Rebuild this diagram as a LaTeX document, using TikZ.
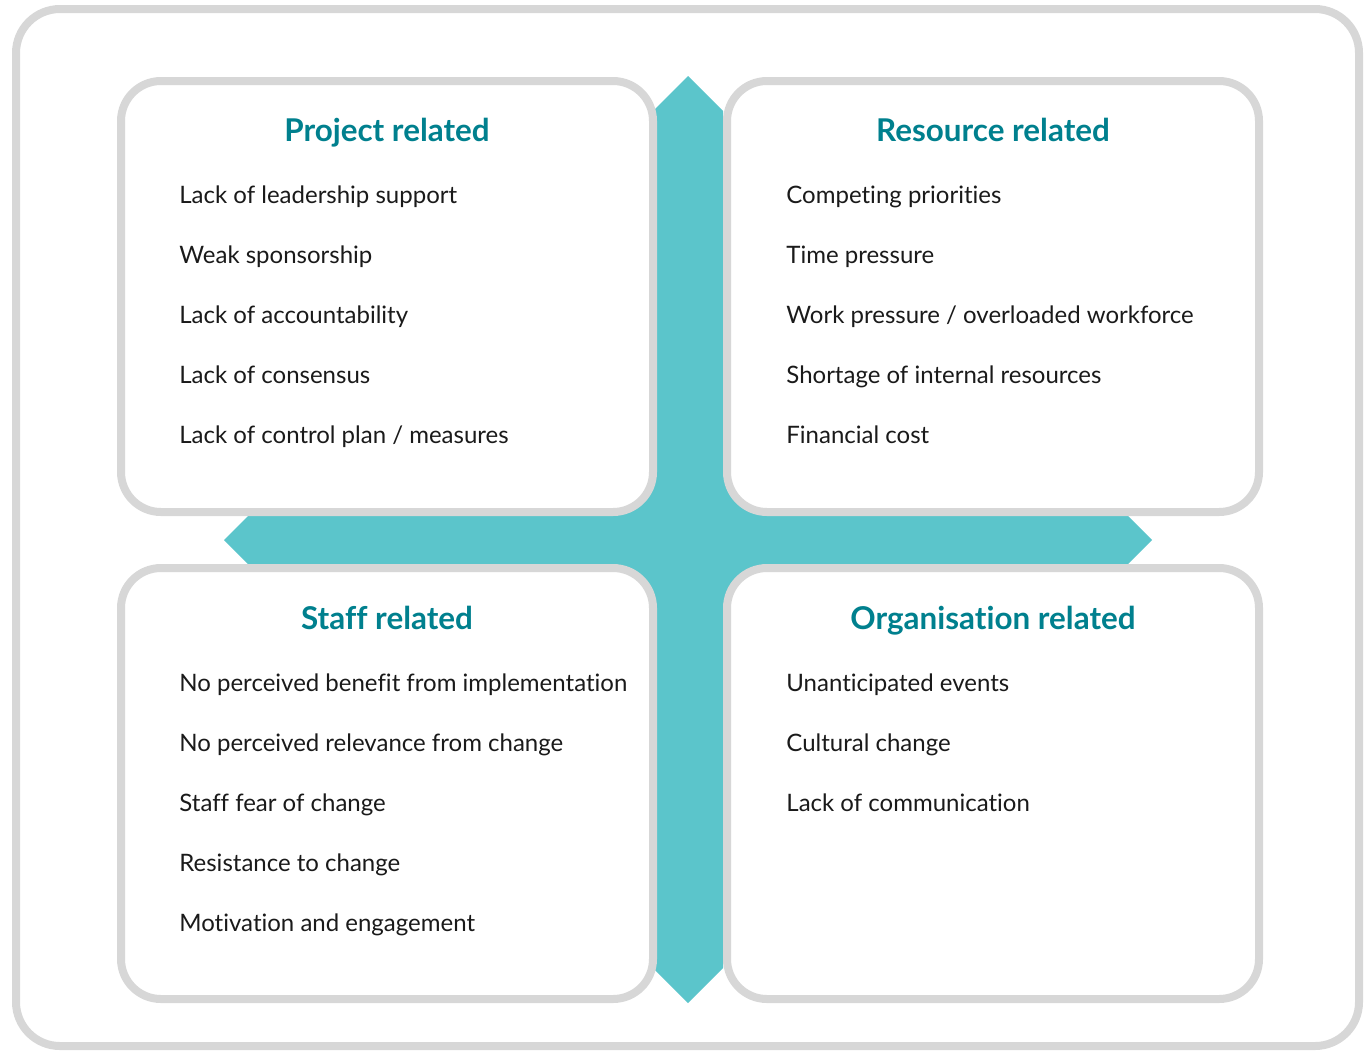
\documentclass[tikz,border=0pt]{standalone}
\usepackage{fontspec}
\setmainfont{Lato}[Ligatures=NoCommon]
\usepackage{tikz}
\usetikzlibrary{positioning}

\definecolor{framegray}{HTML}{D7D7D7}
\definecolor{crossteal}{HTML}{5BC5CB}
\definecolor{headteal}{HTML}{00808E}
\definecolor{itemtext}{HTML}{1A1A1A}

\begin{document}
\begin{tikzpicture}[
		x=0.5pt, y=-0.5pt,
		frame/.style={draw=framegray, line width=4pt, rounded corners=22pt},
		box/.style={draw=framegray, fill=white, line width=4pt, rounded corners=20pt},
		head/.style={font=\fontsize{15.7}{18}\selectfont\bfseries, text=headteal, anchor=base, inner sep=0pt},
		item/.style={font=\fontsize{12}{14}\selectfont, text=itemtext, anchor=base west, inner sep=0pt}
		]
		\useasboundingbox (0,0) rectangle (1368,1050);
		\draw[frame] (16,9) rectangle (1359,1046);
		
		% four-way arrow behind the boxes
		\fill[crossteal] (688,76) -- (723,111) -- (723,505) -- (1117,505) -- (1152,540)
			-- (1117,575) -- (723,575) -- (723,968) -- (688,1003) -- (653,968)
			-- (653,575) -- (259,575) -- (224,540) -- (259,505) -- (653,505)
			-- (653,111) -- cycle;
		\fill[crossteal] (613,472) rectangle (767,608);
		
		\draw[box] (121,81) rectangle (653,512);
		\draw[box] (727,81) rectangle (1259,512);
		\draw[box] (121,568) rectangle (653,999);
		\draw[box] (727,568) rectangle (1259,999);
		
		\node[head] (ptitle) at (387,141) {Project related};
		\node[head] (rtitle) at (993,141) {Resource related};
		\node[head] (stitle) at (387,629) {Staff related};
		\node[head] (otitle) at (993,629) {Organisation related};
		
		\foreach \txt [count=\i] in {Lack of leadership support, Weak sponsorship,
			Lack of accountability, Lack of consensus, Lack of control plan / measures}
			\node[item] (p\i) at (179,{143+60*\i}) {\txt};
		\foreach \txt [count=\i] in {Competing priorities, Time pressure,
			Work pressure / overloaded workforce, Shortage of internal resources, Financial cost}
			\node[item] (r\i) at (786,{143+60*\i}) {\txt};
		\foreach \txt [count=\i] in {No perceived benefit from implementation,
			No perceived relevance from change, Staff fear of change,
			Resistance to change, Motivation and engagement}
			\node[item] (s\i) at (179,{631+60*\i}) {\txt};
		\foreach \txt [count=\i] in {Unanticipated events, Cultural change, Lack of communication}
			\node[item] (o\i) at (786,{631+60*\i}) {\txt};
	\end{tikzpicture}
\end{document}
